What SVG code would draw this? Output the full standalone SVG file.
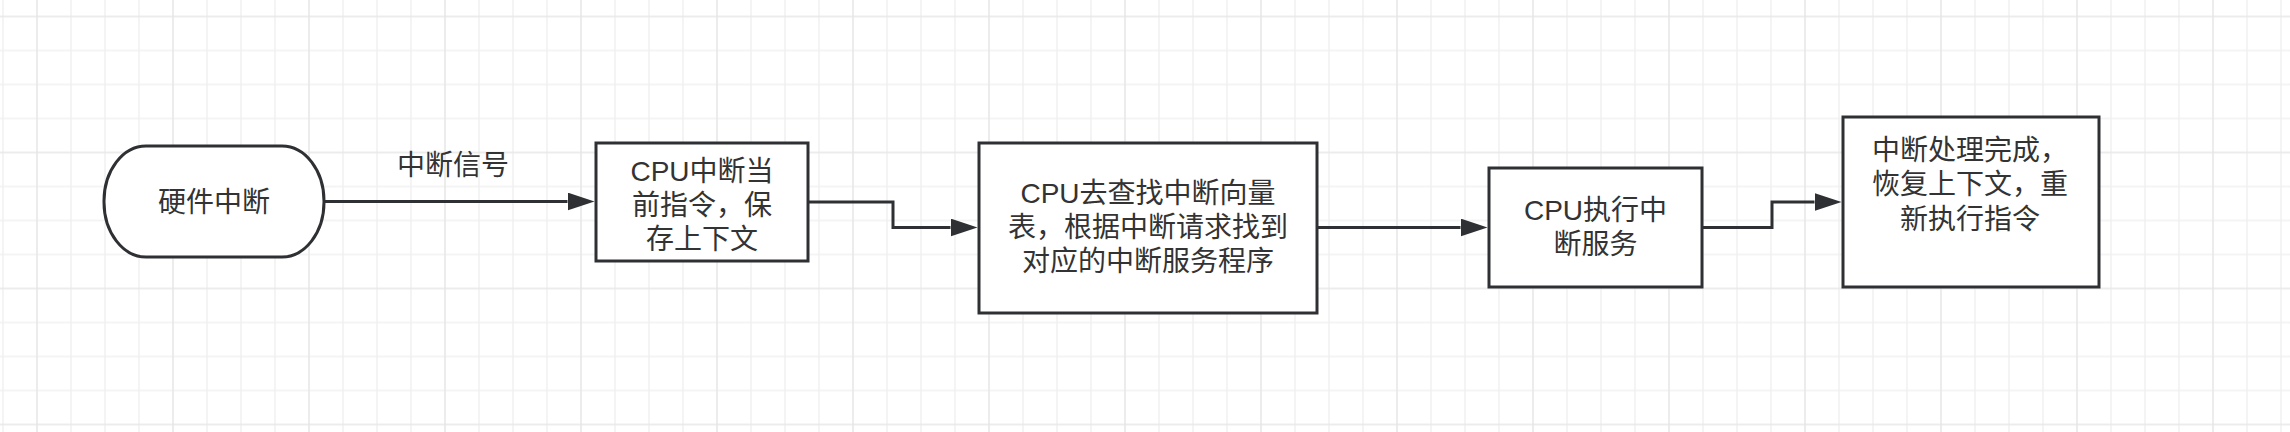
<svg xmlns="http://www.w3.org/2000/svg" width="2290" height="432" viewBox="0 0 2290 432">
  <style>
    .node { fill: #ffffff; stroke: #2e3033; stroke-width: 3; }
    .edge { fill: none; stroke: #2e3033; stroke-width: 3; }
    .txt { font-family: "Liberation Sans", "Noto Sans CJK SC", sans-serif; font-size: 28px; fill: #333333; text-anchor: middle; dominant-baseline: central; }
  </style>
  <defs>
    <pattern id="grid" x="-14" y="-0.5" width="136" height="136" patternUnits="userSpaceOnUse">
      <path d="M17,0 V136 M85,0 V136 M119,0 V136 M0,51 H136 M0,85 H136 M0,119 H136" stroke="#f1f1f1" stroke-width="1.5" fill="none"/>
      <path d="M51,0 V136 M0,17 H136" stroke="#e6e6e6" stroke-width="1.5" fill="none"/>
    </pattern>
    <marker id="arrow" markerUnits="userSpaceOnUse" markerWidth="27" markerHeight="18" refX="0" refY="9" orient="auto" viewBox="0 0 27 18">
      <path d="M0,0 L27,9 L0,18 Z" fill="#2e3033"/>
    </marker>
  </defs>
  <rect x="0" y="0" width="2290" height="432" fill="#ffffff"/>
  <rect x="0" y="0" width="2290" height="432" fill="url(#grid)"/>

  <g id="connectors">
    <path class="edge" d="M324,201.5 H567.5" marker-end="url(#arrow)"/>
    <path class="edge" d="M808,202 H893 V227.5 H950.5" marker-end="url(#arrow)"/>
    <path class="edge" d="M1317,227.5 H1460.5" marker-end="url(#arrow)"/>
    <path class="edge" d="M1702,227.5 H1772 V202 H1814.5" marker-end="url(#arrow)"/>
    <text class="txt" x="453" y="165">中断信号</text>
  </g>

  <g id="node-hw">
    <rect class="node" x="104" y="146" width="220" height="111" rx="42" ry="55"/>
    <text class="txt" x="214" y="202">硬件中断</text>
  </g>

  <g id="node-save">
    <rect class="node" x="596" y="143" width="212" height="118"/>
    <text class="txt" x="702" y="171">CPU中断当</text>
    <text class="txt" x="702" y="205">前指令，保</text>
    <text class="txt" x="702" y="239">存上下文</text>
  </g>

  <g id="node-lookup">
    <rect class="node" x="979" y="143" width="338" height="170"/>
    <text class="txt" x="1148" y="193">CPU去查找中断向量</text>
    <text class="txt" x="1148" y="227">表，根据中断请求找到</text>
    <text class="txt" x="1148" y="261">对应的中断服务程序</text>
  </g>

  <g id="node-exec">
    <rect class="node" x="1489" y="168" width="213" height="119"/>
    <text class="txt" x="1595.5" y="210">CPU执行中</text>
    <text class="txt" x="1595.5" y="244">断服务</text>
  </g>

  <g id="node-restore">
    <rect class="node" x="1843" y="117" width="256" height="170"/>
    <text class="txt" x="1970" y="150">中断处理完成，</text>
    <text class="txt" x="1970" y="184.5">恢复上下文，重</text>
    <text class="txt" x="1970" y="219">新执行指令</text>
  </g>
</svg>
